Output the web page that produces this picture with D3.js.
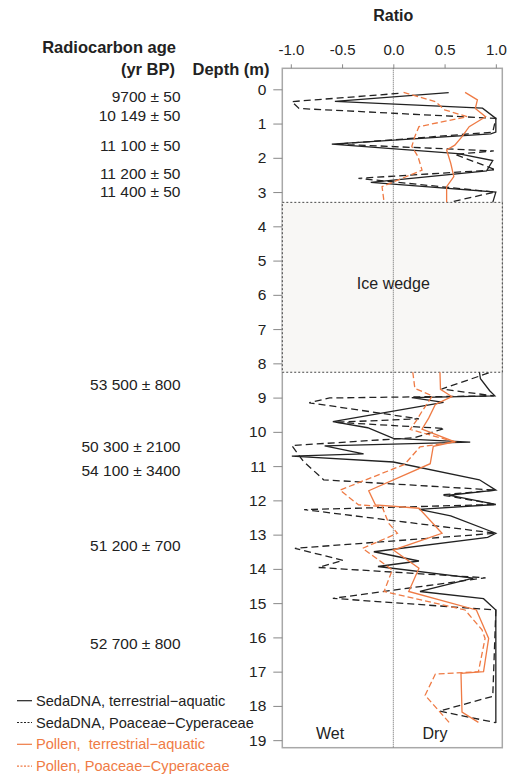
<!DOCTYPE html>
<html>
<head>
<meta charset="utf-8">
<script src="https://cdn.jsdelivr.net/npm/d3@7"></script>
<style>
  body { margin: 0; background: #fff; }
  svg text { font-family: "Liberation Sans", Arial, sans-serif; fill: #222; }
</style>
</head>
<body>
<svg id="chart"></svg>
<script>
// ratio ticks along the top
const ratioTicks = [-1.0, -0.5, 0.0, 0.5, 1.0];
const depthTicks = d3.range(0, 20);

// radiocarbon ages and the depth they are written at
const ageLabels = ['9700 ± 50', '10 149 ± 50', '11 100 ± 50', '11 200 ± 50', '11 400 ± 50',
  '53 500 ± 800', '50 300 ± 2100', '54 100 ± 3400', '51 200 ± 700', '52 700 ± 800'];
const ageDepths = [0.2, 0.77, 1.65, 2.47, 2.99, 8.63, 10.43, 11.14, 13.33, 16.17];

// ice wedge depth range (m)
const iceWedge = [3.3, 8.26];

// SedaDNA, terrestrial-aquatic (null = gap over the ice wedge)
const sedaTADepth = [0.10, 0.35, 0.55, 0.85, 1.25, 1.30, 1.60, 1.88, 2.08, 2.38, 2.72, 3.00, 3.30,
  5.5,
  8.26, 8.45, 8.80, 8.95, 9.00, 9.14, 9.70, 9.88, 10.19, 10.30, 10.41, 10.64, 10.71, 10.88,
  11.40, 11.70, 11.85, 12.12, 12.26, 12.45, 12.96, 13.08, 13.50, 13.77, 13.93, 14.27, 14.66,
  14.87, 15.20, 18.50];
const sedaTAValue = [0.54, -0.57, 0.87, 1.00, 1.00, 0.95, -0.60, 0.63, 0.97, 0.91, -0.22, 1.00, 0.97,
  null,
  0.84, 0.85, 0.94, 0.99, 0.18, 0.49, -0.59, -0.25, 0.00, 0.75, -0.67, -0.29, -0.99, 0.00,
  0.84, 1.00, 0.54, 1.00, 0.25, 0.56, 1.00, 0.92, -0.19, 0.25, -0.15, 0.78, 0.26,
  0.88, 1.00, 1.00];

// SedaDNA, Poaceae-Cyperaceae
const sedaPCDepth = [0.12, 0.36, 0.56, 0.85, 1.25, 1.60, 1.80, 1.90, 2.35, 2.60, 3.00, 3.30,
  5.5,
  8.28, 8.75, 8.95, 9.01, 9.15, 9.62, 9.72, 9.90, 10.17, 10.40, 10.85, 11.40, 11.70, 11.84,
  12.12, 12.27, 12.96, 13.40, 13.75, 13.96, 14.26, 14.86, 15.20, 17.72, 18.15, 18.49];
const sedaPCValue = [0.05, -0.99, -0.92, 1.00, 0.97, -0.55, 0.98, 0.60, 1.00, -0.34, 0.99, 0.55,
  null,
  0.93, 0.47, 0.98, -0.62, -0.82, 0.25, -0.57, 0.50, 0.21, -0.99, -0.88, -0.68, 1.00, 0.47,
  1.00, -0.87, 1.00, -0.96, -0.49, -0.73, 0.90, -0.59, 1.00, 0.97, 0.45, 1.00];

// Pollen, terrestrial-aquatic
const pollenTADepth = [0.09, 0.31, 0.56, 0.80, 1.09, 1.38, 1.63, 1.77, 2.16, 2.55, 2.84, 3.30,
  5.5,
  8.26, 8.76, 8.97, 9.20, 9.60, 9.92, 10.29, 10.42, 10.93, 11.72, 12.13, 12.23, 12.96, 13.45,
  13.98, 14.66, 15.20, 16.03, 17.00, 17.05, 18.18, 18.48];
const pollenTAValue = [0.70, 0.82, 0.80, 0.90, 0.74, 0.67, 0.60, 0.52, 0.56, 0.59, 0.52, 0.52,
  null,
  0.455, 0.46, 0.57, 0.41, 0.345, 0.28, 0.60, 0.39, 0.36, -0.24, -0.175, 0.25, 0.475, 0.00,
  0.25, 0.15, 0.81, 0.93, 0.88, 0.66, 0.67, 0.83];

// Pollen, Poaceae-Cyperaceae
const pollenPCDepth = [0.09, 0.36, 0.60, 0.80, 1.09, 1.38, 1.67, 1.96, 2.36, 2.84, 3.30,
  5.5,
  8.26, 8.73, 8.95, 9.40, 9.65, 9.93, 10.29, 10.44, 10.95, 11.70, 12.13, 12.18, 12.67, 12.96,
  13.40, 14.03, 14.66, 15.20, 15.78, 16.03, 17.00, 17.07, 17.69, 18.50];
const pollenPCValue = [0.10, 0.41, 0.50, 0.72, 0.25, 0.21, 0.18, 0.24, 0.28, -0.11, -0.09,
  null,
  0.19, 0.21, 0.38, 0.28, 0.23, 0.165, 0.60, 0.26, 0.11, -0.52, -0.34, -0.11, -0.045, 0.04,
  -0.30, -0.01, -0.09, 0.70, 0.865, 0.895, 0.83, 0.41, 0.31, 0.55];

const legendNames = ['SedaDNA, terrestrial\u2212aquatic', 'SedaDNA, Poaceae\u2212Cyperaceae',
  'Pollen,  terrestrial\u2212aquatic', 'Pollen, Poaceae\u2212Cyperaceae'];

const black = '#222222';
const orange = '#ef7b45';

const series = [
  { depth: sedaTADepth, value: sedaTAValue, color: black, dash: null, width: 1.3 },
  { depth: sedaPCDepth, value: sedaPCValue, color: black, dash: '7,4', width: 1.3 },
  { depth: pollenTADepth, value: pollenTAValue, color: orange, dash: null, width: 1.3 },
  { depth: pollenPCDepth, value: pollenPCValue, color: orange, dash: '6,3', width: 1.3 }
];

const W = 511, H = 776;
const plot = { left: 282.3, right: 502.3, top: 68.3, bottom: 747.7 };

const svg = d3.select('#chart').attr('width', W).attr('height', H);

const x = d3.scaleLinear().domain([-1.083, 1.063]).range([plot.left, plot.right]);
const y = d3.scaleLinear().domain([-0.613, 19.22]).range([plot.top, plot.bottom]);

// plot frame
svg.append('rect')
  .attr('x', plot.left).attr('y', plot.top)
  .attr('width', plot.right - plot.left).attr('height', plot.bottom - plot.top)
  .attr('fill', 'none').attr('stroke', '#a8a8a8').attr('stroke-width', 1.5);

// ice wedge
svg.append('rect')
  .attr('x', plot.left).attr('y', y(iceWedge[0]))
  .attr('width', plot.right - plot.left).attr('height', y(iceWedge[1]) - y(iceWedge[0]))
  .attr('fill', '#f8f7f5').attr('stroke', '#333').attr('stroke-width', 0.9)
  .attr('stroke-dasharray', '2,2');

svg.append('text')
  .attr('x', x(0)).attr('y', (y(iceWedge[0]) + y(iceWedge[1])) / 2 - 4)
  .attr('dy', '0.35em').attr('text-anchor', 'middle')
  .style('font-size', '16px').text('Ice wedge');

// zero line
svg.append('line')
  .attr('x1', x(0)).attr('x2', x(0)).attr('y1', plot.top).attr('y2', plot.bottom)
  .attr('stroke', '#666').attr('stroke-width', 1).attr('stroke-dasharray', '1,1');

// series
const line = d3.line()
  .defined(d => d.v !== null)
  .x(d => x(d.v))
  .y(d => y(d.d));

series.forEach(s => {
  const pts = s.depth.map((d, i) => ({ d: d, v: s.value[i] }));
  svg.append('path')
    .datum(pts)
    .attr('d', line)
    .attr('fill', 'none')
    .attr('stroke', s.color)
    .attr('stroke-width', s.width)
    .attr('stroke-dasharray', s.dash);
});

// top axis
const topAxis = svg.append('g')
  .attr('transform', `translate(0,${plot.top})`)
  .call(d3.axisTop(x).tickValues(ratioTicks).tickSize(4).tickPadding(9)
    .tickFormat(d => d.toFixed(1)));
topAxis.select('.domain').remove();
topAxis.selectAll('line').attr('stroke', '#888');
topAxis.selectAll('text').style('font-size', '15px').attr('fill', '#222');

// depth axis
const leftAxis = svg.append('g')
  .attr('transform', `translate(${plot.left},0)`)
  .call(d3.axisLeft(y).tickValues(depthTicks).tickSize(9).tickPadding(7)
    .tickFormat(d3.format('d')));
leftAxis.select('.domain').remove();
leftAxis.selectAll('line').attr('stroke', '#888');
leftAxis.selectAll('text').style('font-size', '15.5px').attr('fill', '#222');

// titles
svg.append('text').attr('x', x(0)).attr('y', 21).attr('text-anchor', 'middle')
  .style('font-size', '16px').style('font-weight', 'bold').text('Ratio');
svg.append('text').attr('x', 176).attr('y', 53).attr('text-anchor', 'end')
  .style('font-size', '16.5px').style('font-weight', 'bold').text('Radiocarbon age');
svg.append('text').attr('x', 175).attr('y', 75).attr('text-anchor', 'end')
  .style('font-size', '16.5px').style('font-weight', 'bold').text('(yr BP)');
svg.append('text').attr('x', 269.5).attr('y', 75).attr('text-anchor', 'end')
  .style('font-size', '16.5px').style('font-weight', 'bold').text('Depth (m)');

// ages
svg.selectAll('.age')
  .data(ageLabels)
  .enter().append('text')
  .attr('class', 'age')
  .attr('x', 180.5)
  .attr('y', (d, i) => y(ageDepths[i]))
  .attr('dy', '0.35em')
  .attr('text-anchor', 'end')
  .style('font-size', '15.5px')
  .text(d => d);

// wet / dry
svg.append('text').attr('x', 330).attr('y', 733).attr('dy', '0.35em').attr('text-anchor', 'middle')
  .style('font-size', '16px').text('Wet');
svg.append('text').attr('x', 435).attr('y', 733).attr('dy', '0.35em').attr('text-anchor', 'middle')
  .style('font-size', '16px').text('Dry');

// legend
const legend = svg.selectAll('.legend')
  .data(legendNames)
  .enter().append('g')
  .attr('class', 'legend')
  .attr('transform', (d, i) => `translate(0,${700.7 + i * 21.8})`);

legend.append('line')
  .attr('x1', 17).attr('x2', 32).attr('y1', 0).attr('y2', 0)
  .attr('stroke', (d, i) => series[i].color)
  .attr('stroke-width', 1.2)
  .attr('stroke-dasharray', (d, i) => series[i].dash ? '2,1.5' : null);

legend.append('text')
  .attr('x', 36).attr('y', 0).attr('dy', '0.35em')
  .style('font-size', '14.6px')
  .style('white-space', 'pre')
  .style('fill', (d, i) => series[i].color)
  .text(d => d);
</script>
</body>
</html>
